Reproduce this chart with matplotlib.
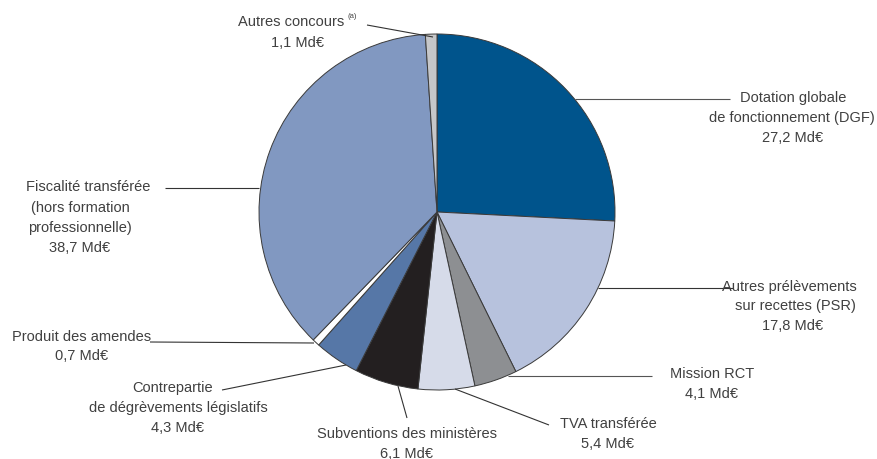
import matplotlib
matplotlib.use("Agg")
import matplotlib.pyplot as plt

# Data (Md€), clockwise from top
categories = ["Dotation globale de fonctionnement (DGF)", "Autres prélèvements sur recettes (PSR)",
              "Mission RCT", "TVA transférée", "Subventions des ministères",
              "Contrepartie de dégrèvements législatifs", "Produit des amendes",
              "Fiscalité transférée (hors formation professionnelle)", "Autres concours"]
values = [27.2, 17.8, 4.1, 5.4, 6.1, 4.3, 0.7, 38.7, 1.1]
value_labels = ["27,2 Md€", "17,8 Md€", "4,1 Md€", "5,4 Md€", "6,1 Md€",
                "4,3 Md€", "0,7 Md€", "38,7 Md€", "1,1 Md€"]
colors = ["#00548c", "#b7c2dd", "#8d8f92", "#d6dbe9", "#231f20",
          "#5677a7", "#ffffff", "#8198c1", "#c6c7c9"]

W, H = 878, 460
fig = plt.figure(figsize=(W / 100, H / 100), dpi=100)
ax = fig.add_axes([0, 0, 1, 1])

def P(x, y):
    return (x, H - y)

ax.pie(values, colors=colors, startangle=90, counterclock=False,
       center=P(437, 213), radius=178,
       wedgeprops=dict(edgecolor="#3a3a3a", linewidth=0.7))
ax.set_xlim(0, W)
ax.set_ylim(0, H)
ax.set_aspect("equal")
ax.axis("off")

tc = "#404040"
fs = 10.5
font = "Liberation Sans"

def line(p1, p2, color="#333333"):
    (x1, y1), (x2, y2) = P(*p1), P(*p2)
    ax.plot([x1, x2], [y1, y2], color=color, lw=0.8, solid_capstyle="butt")

def text(x, y, s, ha="center"):
    ax.text(*P(x, y), s, ha=ha, va="center", fontsize=fs, color=tc, family=font)

# Autres concours
text(291, 22, "Autres concours")
ax.text(*P(348, 17), "(a)", ha="left", va="center", fontsize=5.5, color=tc, family=font)
text(298, 43, value_labels[8])
line((367, 26), (433, 38))

# DGF
line((575, 100), (730, 100), color="#555555")
text(793, 98, "Dotation globale")
text(792, 118, "de fonctionnement (DGF)")
text(793, 138, value_labels[0])

# PSR
line((598, 289), (733, 289))
text(789, 287, "Autres prélèvements")
text(795, 306, "sur recettes (PSR)")
text(793, 326, value_labels[1])

# Mission RCT
line((508, 377), (652, 377), color="#555555")
text(712, 374, "Mission RCT")
text(712, 394, value_labels[2])

# TVA
line((455, 390), (549, 426))
text(608, 424, "TVA transférée")
text(608, 444, value_labels[3])

# Subventions
line((398, 387), (407, 419))
text(407, 434, "Subventions des ministères")
text(407, 454, value_labels[4])

# Contrepartie
line((222, 391), (346, 366))
text(173, 388, "Contrepartie")
text(178, 408, "de dégrèvements législatifs")
text(178, 428, value_labels[5])

# Produit des amendes
line((150, 343), (314, 344))
text(82, 337, "Produit des amendes")
text(82, 356, value_labels[6])

# Fiscalité
line((165, 189), (259, 189))
text(88, 187, "Fiscalité transférée")
text(80, 208, "(hors formation")
text(80, 228, "professionnelle)")
text(80, 248, value_labels[7])

fig.savefig("out.png", dpi=100, facecolor="white")
